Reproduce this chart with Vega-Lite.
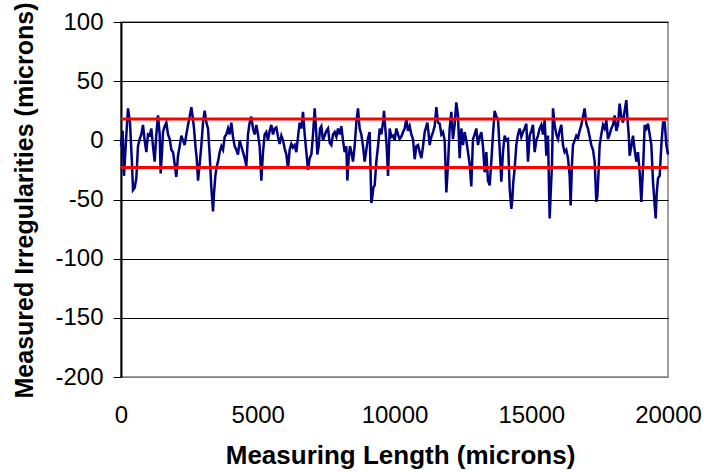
{
  "$schema": "https://vega.github.io/schema/vega-lite/v6.json",
  "width": 547,
  "height": 355,
  "autosize": {"type": "none"},
  "padding": {"left": 121, "top": 22, "right": 36, "bottom": 95},
  "background": "white",
  "config": {"view": {"stroke": "#808080", "strokeWidth": 1.5}, "font": "Liberation Sans"},
  "datasets": {
    "sig": [
      {"x":0,"y":-5},{"x":60,"y":8},{"x":109,"y":-30},{"x":183,"y":0},{"x":256,"y":27},{"x":329,"y":15},{"x":402,"y":-20},{"x":439,"y":-42},{"x":500,"y":-40},{"x":560,"y":-32},{"x":621,"y":-5},{"x":682,"y":1},{"x":743,"y":5},{"x":804,"y":13},{"x":865,"y":0},{"x":926,"y":-10},{"x":987,"y":5},{"x":1048,"y":4},{"x":1109,"y":10},{"x":1170,"y":-5},{"x":1231,"y":-18},{"x":1292,"y":5},{"x":1353,"y":21},{"x":1414,"y":5},{"x":1450,"y":-28},{"x":1499,"y":-10},{"x":1536,"y":7},{"x":1597,"y":12},{"x":1658,"y":15},{"x":1719,"y":5},{"x":1780,"y":1},{"x":1841,"y":-8},{"x":1902,"y":-10},{"x":1963,"y":-20},{"x":2023,"y":-31},{"x":2084,"y":-13},{"x":2145,"y":-5},{"x":2206,"y":4},{"x":2267,"y":0},{"x":2328,"y":-4},{"x":2389,"y":5},{"x":2450,"y":13},{"x":2511,"y":20},{"x":2572,"y":28},{"x":2621,"y":20},{"x":2670,"y":10},{"x":2718,"y":-4},{"x":2767,"y":-15},{"x":2816,"y":-34},{"x":2877,"y":-20},{"x":2938,"y":-4},{"x":2999,"y":15},{"x":3060,"y":25},{"x":3121,"y":15},{"x":3181,"y":10},{"x":3242,"y":-12},{"x":3303,"y":-40},{"x":3364,"y":-60},{"x":3400,"y":-45},{"x":3450,"y":-30},{"x":3498,"y":-22},{"x":3547,"y":-18},{"x":3608,"y":-10},{"x":3669,"y":-5},{"x":3730,"y":-8},{"x":3791,"y":3},{"x":3852,"y":5},{"x":3913,"y":10},
      {"x":3973,"y":5},{"x":4034,"y":15},{"x":4095,"y":3},{"x":4156,"y":-5},{"x":4217,"y":-8},{"x":4278,"y":-12},{"x":4339,"y":0},{"x":4400,"y":-5},{"x":4461,"y":-10},{"x":4522,"y":-15},{"x":4583,"y":-22},{"x":4643,"y":5},{"x":4704,"y":15},{"x":4765,"y":20},{"x":4826,"y":10},{"x":4887,"y":5},{"x":4948,"y":13},{"x":5009,"y":5},{"x":5070,"y":-5},{"x":5131,"y":-34},{"x":5192,"y":-10},{"x":5253,"y":5},{"x":5314,"y":7},{"x":5375,"y":0},{"x":5436,"y":8},{"x":5497,"y":13},{"x":5558,"y":5},{"x":5619,"y":10},{"x":5680,"y":11},{"x":5741,"y":3},{"x":5802,"y":-3},{"x":5863,"y":4},{"x":5924,"y":0},{"x":5985,"y":-7},{"x":6046,"y":-12},{"x":6106,"y":-24},{"x":6167,"y":-8},{"x":6228,"y":-3},{"x":6289,"y":-6},{"x":6350,"y":-4},{"x":6411,"y":-10},{"x":6472,"y":3},{"x":6533,"y":15},{"x":6594,"y":10},{"x":6655,"y":24},{"x":6716,"y":5},{"x":6777,"y":-10},{"x":6838,"y":-25},{"x":6899,"y":-15},{"x":6960,"y":-12},{"x":7021,"y":5},{"x":7082,"y":27},{"x":7143,"y":5},{"x":7179,"y":-12},{"x":7228,"y":-5},{"x":7277,"y":10},{"x":7325,"y":12},{"x":7386,"y":0},{"x":7447,"y":4},{"x":7508,"y":8},{"x":7569,"y":10},{"x":7630,"y":-2},{"x":7691,"y":-4},{"x":7752,"y":5},{"x":7813,"y":7},{"x":7874,"y":3},{"x":7935,"y":10},
      {"x":7995,"y":5},{"x":8056,"y":12},{"x":8117,"y":0},{"x":8178,"y":-10},{"x":8239,"y":-5},{"x":8275,"y":-34},{"x":8324,"y":-15},{"x":8373,"y":-5},{"x":8422,"y":-10},{"x":8483,"y":-18},{"x":8543,"y":-5},{"x":8604,"y":15},{"x":8665,"y":27},{"x":8726,"y":10},{"x":8787,"y":5},{"x":8848,"y":-5},{"x":8909,"y":-18},{"x":8970,"y":-8},{"x":9031,"y":2},{"x":9092,"y":7},{"x":9153,"y":-53},{"x":9190,"y":-48},{"x":9226,"y":-40},{"x":9275,"y":-38},{"x":9336,"y":-18},{"x":9397,"y":-5},{"x":9458,"y":10},{"x":9519,"y":5},{"x":9580,"y":15},{"x":9616,"y":25},{"x":9665,"y":10},{"x":9714,"y":-5},{"x":9763,"y":-30},{"x":9824,"y":10},{"x":9885,"y":3},{"x":9945,"y":4},{"x":10006,"y":0},{"x":10067,"y":10},{"x":10128,"y":5},{"x":10189,"y":1},{"x":10250,"y":3},{"x":10311,"y":7},{"x":10372,"y":10},{"x":10433,"y":18},{"x":10494,"y":8},{"x":10555,"y":12},{"x":10616,"y":5},{"x":10677,"y":1},{"x":10738,"y":-16},{"x":10799,"y":-5},{"x":10860,"y":-4},{"x":10921,"y":-10},{"x":10982,"y":-15},{"x":11043,"y":-5},{"x":11104,"y":7},{"x":11165,"y":12},{"x":11201,"y":15},{"x":11250,"y":5},{"x":11286,"y":-4},{"x":11347,"y":3},{"x":11408,"y":7},{"x":11469,"y":12},{"x":11530,"y":28},{"x":11591,"y":15},{"x":11652,"y":14},{"x":11713,"y":5},{"x":11774,"y":7},{"x":11835,"y":0},{"x":11896,"y":-44},{"x":11957,"y":-20},
      {"x":12016,"y":10},{"x":12077,"y":24},{"x":12138,"y":1},{"x":12199,"y":13},{"x":12260,"y":32},{"x":12321,"y":21},{"x":12382,"y":-15},{"x":12443,"y":10},{"x":12504,"y":-4},{"x":12565,"y":7},{"x":12626,"y":0},{"x":12687,"y":-10},{"x":12748,"y":-20},{"x":12808,"y":-39},{"x":12869,"y":1},{"x":12930,"y":5},{"x":12991,"y":10},{"x":13052,"y":-4},{"x":13113,"y":3},{"x":13174,"y":7},{"x":13235,"y":-5},{"x":13296,"y":-27},{"x":13357,"y":-10},{"x":13418,"y":-34},{"x":13479,"y":-38},{"x":13540,"y":-18},{"x":13601,"y":5},{"x":13662,"y":25},{"x":13723,"y":20},{"x":13784,"y":18},{"x":13845,"y":-7},{"x":13906,"y":-35},{"x":13966,"y":-10},{"x":14027,"y":4},{"x":14088,"y":0},{"x":14149,"y":1},{"x":14210,"y":-40},{"x":14271,"y":-58},{"x":14308,"y":-50},{"x":14344,"y":-35},{"x":14393,"y":-24},{"x":14454,"y":-4},{"x":14515,"y":5},{"x":14576,"y":10},{"x":14637,"y":3},{"x":14698,"y":7},{"x":14759,"y":10},{"x":14820,"y":14},{"x":14881,"y":-18},{"x":14942,"y":4},{"x":15003,"y":8},{"x":15064,"y":13},{"x":15125,"y":-10},{"x":15186,"y":0},{"x":15247,"y":4},{"x":15308,"y":10},{"x":15369,"y":13},{"x":15430,"y":5},{"x":15491,"y":17},{"x":15552,"y":-13},{"x":15613,"y":4},{"x":15649,"y":-40},{"x":15674,"y":-66},{"x":15710,"y":-45},{"x":15759,"y":-20},{"x":15795,"y":27},{"x":15856,"y":13},{"x":15917,"y":5},{"x":15978,"y":1},
      {"x":16038,"y":8},{"x":16099,"y":13},{"x":16160,"y":-4},{"x":16221,"y":-10},{"x":16282,"y":-8},{"x":16343,"y":-15},{"x":16404,"y":-30},{"x":16440,"y":-55},{"x":16489,"y":-20},{"x":16526,"y":-4},{"x":16587,"y":0},{"x":16648,"y":4},{"x":16708,"y":2},{"x":16769,"y":8},{"x":16830,"y":13},{"x":16891,"y":20},{"x":16952,"y":27},{"x":17013,"y":14},{"x":17074,"y":10},{"x":17135,"y":3},{"x":17196,"y":-4},{"x":17257,"y":-8},{"x":17318,"y":-18},{"x":17379,"y":-52},{"x":17415,"y":-48},{"x":17464,"y":-25},{"x":17501,"y":-4},{"x":17562,"y":5},{"x":17623,"y":13},{"x":17684,"y":10},{"x":17745,"y":17},{"x":17806,"y":1},{"x":17867,"y":5},{"x":17928,"y":10},{"x":17989,"y":13},{"x":18050,"y":21},{"x":18110,"y":8},{"x":18171,"y":13},{"x":18232,"y":31},{"x":18293,"y":20},{"x":18354,"y":15},{"x":18415,"y":25},{"x":18476,"y":34},{"x":18513,"y":20},{"x":18562,"y":5},{"x":18598,"y":-13},{"x":18659,"y":-5},{"x":18720,"y":4},{"x":18781,"y":-8},{"x":18842,"y":-18},{"x":18903,"y":-10},{"x":18964,"y":-27},{"x":19025,"y":-52},{"x":19061,"y":-35},{"x":19098,"y":-18},{"x":19147,"y":13},{"x":19208,"y":10},{"x":19269,"y":14},{"x":19330,"y":5},{"x":19391,"y":-4},{"x":19452,"y":-35},{"x":19513,"y":-55},{"x":19549,"y":-66},{"x":19586,"y":-45},{"x":19635,"y":-32},{"x":19696,"y":-30},{"x":19757,"y":-4},{"x":19818,"y":15},{"x":19879,"y":15},{"x":19940,"y":-4},{"x":20000,"y":-12}
    ],
    "lim": [{"y": 18}, {"y": -23}]
  },
  "layer": [
    {
      "data": {"name": "sig"},
      "mark": {"type": "line", "color": "#000080", "strokeWidth": 2.5},
      "encoding": {
        "x": {
          "field": "x", "type": "quantitative",
          "scale": {"domain": [0, 20000], "nice": false, "zero": false},
          "axis": {
            "title": "Measuring Length (microns)",
            "values": [0, 5000, 10000, 15000, 20000],
            "format": "d",
            "grid": false, "domain": false, "ticks": false,
            "labelFontSize": 24, "labelColor": "#000", "labelPadding": 26,
            "labelFlush": false, "labelOverlap": false, "labelBound": false,
            "titleFontSize": 26, "titleFontWeight": "bold", "titleColor": "#000",
            "titleX": 279, "titleY": 78, "titleBaseline": "middle", "titleAlign": "center"
          }
        },
        "y": {
          "field": "y", "type": "quantitative",
          "scale": {"domain": [-200, 100], "nice": false, "zero": false},
          "axis": {
            "title": "Measured Irregularities (microns)",
            "values": [-200, -150, -100, -50, 0, 50, 100],
            "labelExpr": "'' + datum.value",
            "grid": true,
            "gridColor": {"condition": {"test": "datum.value === -200", "value": "#808080"}, "value": "#000000"},
            "gridWidth": 1,
            "domainColor": "#000", "domainWidth": 2,
            "tickColor": "#000", "tickSize": 8, "tickWidth": 1,
            "labelFontSize": 24, "labelColor": "#000", "labelPadding": 10,
            "labelOverlap": false, "labelBound": false, "labelFlush": false,
            "titleFontSize": 25, "titleFontWeight": "bold", "titleColor": "#000",
            "titleX": -97, "titleY": 178, "titleAngle": -90, "titleAlign": "center", "titleBaseline": "middle"
          }
        }
      }
    },
    {
      "data": {"name": "lim"},
      "mark": {"type": "rule", "color": "#ff0000", "strokeWidth": 3},
      "encoding": {"y": {"field": "y", "type": "quantitative"}}
    }
  ]
}
